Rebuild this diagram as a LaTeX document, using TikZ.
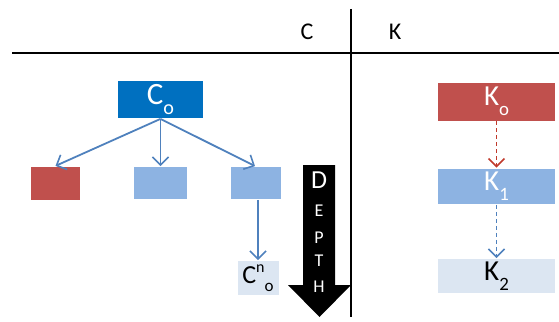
\documentclass[tikz,border=0pt]{standalone}
\usepackage{fontspec}
\setmainfont{Carlito}
\usetikzlibrary{arrows.meta}
\definecolor{cdark}{HTML}{0070C0}
\definecolor{clight}{HTML}{8DB3E2}
\definecolor{cpale}{HTML}{DCE6F2}
\definecolor{cred}{HTML}{C0504D}
\definecolor{cline}{HTML}{4F81BD}
\definecolor{cdash}{HTML}{C0392B}
\tikzset{
  box/.style={rectangle,inner sep=0pt,anchor=center},
  link/.style={draw=cline,line width=1.8pt,-{Straight Barb[length=8pt,width=16pt,line width=1.6pt]}},
  dlink/.style={link,dashed,dash pattern=on 4pt off 3pt},
}
\newcommand{\sub}[1]{\raisebox{-0.35em}{\fontsize{0.65em}{0.65em}\selectfont #1}}
\begin{document}
\begin{tikzpicture}[x=1pt,y=-1pt,line width=1.8pt]
\useasboundingbox (0,0) rectangle (559,321);
% header
\coordinate (h1) at (12,53); \coordinate (h2) at (559,53);
\coordinate (v1) at (351,9); \coordinate (v2) at (351,317);
\draw (h1)--(h2); \draw (v1)--(v2);
\node[box,font=\fontsize{24pt}{26pt}\selectfont] (hc) at (307,32) {C};
\node[box,font=\fontsize{24pt}{26pt}\selectfont] (hk) at (395,32) {K};
% C side
\node[box,fill=cdark,minimum width=85pt,minimum height=37pt,text=white,font=\fontsize{31pt}{33pt}\selectfont] (c0) at (160.5,99.5)
  {C\sub{o}};
\node[box,fill=cred,minimum width=49pt,minimum height=33pt] (ca) at (55.5,183.3) {};
\node[box,fill=clight,minimum width=53pt,minimum height=32pt] (cb) at (160.5,183) {};
\node[box,fill=clight,minimum width=50pt,minimum height=32pt] (cc) at (256,183) {};
\node[box,fill=cpale,minimum width=41pt,minimum height=34pt,font=\fontsize{26pt}{27pt}\selectfont] (cn) at (258,278)
  {C\raisebox{0.45em}{\fontsize{16pt}{16pt}\selectfont n}\raisebox{-0.3em}{\fontsize{17pt}{17pt}\selectfont o}};
\draw[link] (c0.south) -- (ca.north);
\draw[link] (c0.south) -- (cb.north);
\draw[link] (c0.south) -- (cc.north-|255,0);
\draw[link] (cc.south-|258,0) -- (cn.north-|258,0);
% depth arrow
\fill (303,165)--(335,165)--(335,285)--(351,285)--(319.5,317)--(288,285)--(303,285)--cycle;
\node[box,text=white,font=\fontsize{26pt}{27pt}\selectfont] (d1) at (319,180) {D};
\foreach \l/\y [count=\i from 2] in {E/211,P/237.5,T/261,H/287}
  \node[box,text=white,font=\fontsize{18pt}{19pt}\selectfont] (d\i) at (319,\y) {\l};
% K side
\node[box,fill=cred,minimum width=117pt,minimum height=38pt,text=white,font=\fontsize{29pt}{30pt}\selectfont] (k0) at (496.5,101.5)
  {K\sub{o}};
\node[box,fill=clight,minimum width=117pt,minimum height=35.5pt,text=white,font=\fontsize{29pt}{30pt}\selectfont] (k1) at (496.5,186.3)
  {K\sub{1}};
\node[box,fill=cpale,minimum width=117pt,minimum height=34pt,font=\fontsize{29pt}{30pt}\selectfont] (k2) at (496.5,276)
  {K\sub{2}};
\draw[dlink,draw=cdash] (k0.south) -- (k1.north);
\draw[dlink] (k1.south) -- (k2.north);
\end{tikzpicture}
\end{document}
